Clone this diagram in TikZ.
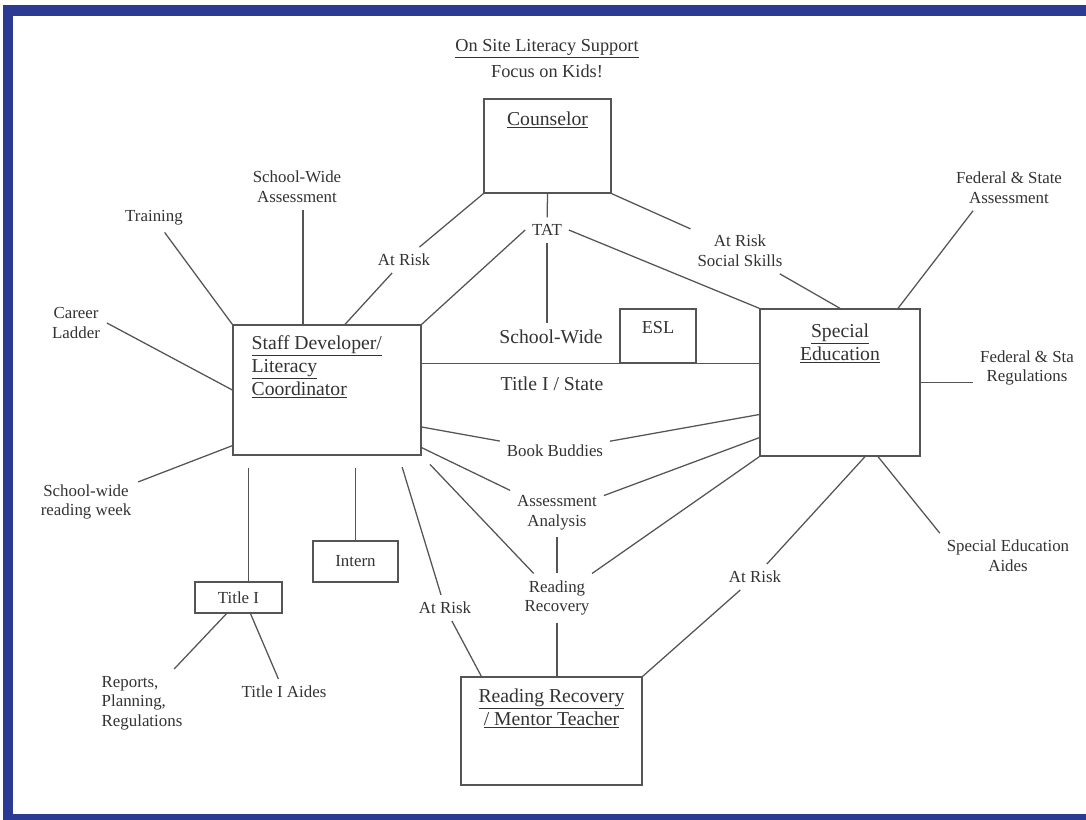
\documentclass[tikz,border=0pt]{standalone}
\usepackage{fontspec}
\setmainfont{Liberation Serif}
\usepackage{tikz}
\usetikzlibrary{positioning,calc}
\definecolor{lsframe}{HTML}{2B3A92}
\definecolor{lsink}{HTML}{333333}
\definecolor{lsline}{HTML}{555555}
\tikzset{
  unit/.style={draw=lsline,line width=0.9pt,fill=white,inner sep=0pt},
  smallunit/.style={unit,font={\fontsize{12}{14}\selectfont},text=lsink},
  hd/.style={font={\fontsize{14}{16.3}\selectfont},text=lsink,align=center,inner sep=5pt},
  lbl/.style={font={\fontsize{12}{14}\selectfont},text=lsink,align=center,inner sep=1pt,outer sep=4pt},
  biglbl/.style={lbl,font={\fontsize{14}{16}\selectfont}},
  link/.style={draw=lsline,line width=0.9pt},
}

\begin{document}
\begin{tikzpicture}[x=0.025cm,y=-0.025cm]
  \useasboundingbox (0,0) rectangle (1086,820);
  \fill[white] (0,0) rectangle (1086,820);
  % frame
  \fill[lsframe] (3,5) rectangle (1086,16);
  \fill[lsframe] (3,5) rectangle (13,820);
  \fill[lsframe] (3,814) rectangle (1086,820);

  % heading
  \node[lbl,font={\fontsize{13}{15}\selectfont}] (head) at (547,49) {\underline{On Site Literacy Support}};
  \node[lbl,font={\fontsize{13}{15}\selectfont}] (kids) at (547,71) {Focus on Kids!};

  % boxes
  \node[unit,minimum width=3.175cm,minimum height=2.35cm] (couns) at (547.5,146) {};
  \node[hd,anchor=north] (counsT) at ([yshift=-0.15cm]couns.north) {\underline{Counselor}};
  \node[unit,minimum width=4.7cm,minimum height=3.25cm] (staff) at (327,390) {};
  \node[hd,anchor=north west,align=left] (staffT) at ([xshift=0.3cm,yshift=-0.1cm]staff.north west)
    {\underline{Staff Developer/}\\\underline{Literacy}\\\underline{Coordinator}};
  \node[unit,minimum width=4cm,minimum height=3.675cm] (sped) at (840,382.5) {};
  \node[hd,anchor=north] (spedT) at ([yshift=-0.2cm]sped.north) {\underline{Special}\\\underline{Education}};
  \node[unit,minimum width=4.525cm,minimum height=2.7cm] (rr) at (551.5,731) {};
  \node[hd,anchor=north] (rrT) at ([yshift=-0.12cm]rr.north) {\underline{Reading Recovery}\\\underline{/ Mentor Teacher}};
  \node[unit,minimum width=1.9cm,minimum height=1.35cm] (esl) at (658,336) {};
  \node[lbl,font={\fontsize{13}{15}\selectfont},anchor=north] (eslT) at ([yshift=-0.15cm]esl.north) {ESL};
  \node[smallunit,minimum width=2.125cm,minimum height=1.025cm] (intern) at (355.5,561.5) {Intern};
  \node[smallunit,minimum width=2.175cm,minimum height=0.775cm] (titlei) at (238.5,597.5) {Title I};

  % labels
  \node[lbl] (train) at (154,218) {Training};
  \node[lbl] (swa) at (297,187) {School-Wide\\Assessment};
  \node[lbl] (career) at (76,323) {Career\\Ladder};
  \node[lbl] (arisk1) at (404,260) {At Risk};
  \node[lbl] (tat) at (547,230) {TAT};
  \node[biglbl] (swide) at (551,337) {School-Wide};
  \node[biglbl] (tstate) at (552,384) {Title I / State};
  \node[lbl] (arss) at (740,251) {At Risk\\Social Skills};
  \node[lbl] (fsa) at (1009,188) {Federal \& State\\Assessment};
  \node[lbl] (fsr) at (1027,368) {Federal \& Sta\\Regulations};
  \node[lbl] (srw) at (86,502) {School-wide\\reading week};
  \node[lbl] (buddies) at (555,451) {Book Buddies};
  \node[lbl] (assess) at (557,513) {Assessment\\Analysis};
  \node[lbl] (rrlbl) at (557,598) {Reading\\Recovery};
  \node[lbl] (arisk2) at (445,608) {At Risk};
  \node[lbl] (arisk3) at (755,577) {At Risk};
  \node[lbl] (aides) at (1008,556) {Special Education\\Aides};
  \node[lbl,align=left] (reports) at (142,703) {Reports,\\Planning,\\Regulations};
  \node[lbl] (t1aides) at (284,692) {Title I Aides};

  % counselor links
  \draw[link] (couns.south) -- (tat);
  \draw[link] (couns.south west) -- (arisk1);
  \draw[link] (couns.south east) -- (arss);
  \draw[link] (tat.west) -- (staff.north east);
  \draw[link] (tat.east) -- (sped.north west);
  \draw[link] (tat) -- (tat |- swide.north);
  \draw[link] (staff.east |- esl.south) -- (sped.west |- esl.south);

  % staff developer links
  \coordinate (swaFoot) at ([xshift=-0.6cm]staff.north);
  \draw[link] (train) -- (staff.north west);
  \draw[link] (swaFoot) -- (swaFoot |- swa.south);
  \draw[link] (arisk1) -- ([xshift=0.45cm]staff.north);
  \draw[link] (career.east) -- (staff.west);
  \draw[link] (srw) -- ([yshift=0.25cm]staff.south west);
  \coordinate (t1Top) at ([xshift=0.4cm]staff.south west);
  \draw[link,shorten <=0.3cm] (t1Top) -- (t1Top |- titlei.north);
  \draw[link,shorten >=0.3cm] (intern.north) -- (intern.north |- staff.south);
  \draw[link,shorten >=0.3cm] (arisk2) -- ([xshift=-0.575cm]staff.south east);
  \draw[link] (arisk2) -- ([xshift=0.525cm]rr.north west);

  % shared programmes
  \draw[link] (buddies) -- ([yshift=-0.925cm]staff.east);
  \draw[link] (buddies) -- ([yshift=-0.8cm]sped.west);
  \draw[link] (assess) -- ([yshift=0.2cm]staff.south east);
  \draw[link] (assess) -- ([yshift=0.475cm]sped.south west);
  \draw[link] (assess) -- (rrlbl);
  \draw[link,shorten >=0.3cm] (rrlbl) -- (staff.south east);
  \draw[link] (rrlbl) -- (sped.south west);
  \draw[link] (rrlbl) -- (rrlbl |- rr.north);

  % special education links
  \draw[link] (arss) -- (sped.north);
  \draw[link] ([xshift=-0.9cm]fsa.south) -- ([xshift=1.45cm]sped.north);
  \draw[link] (sped.east) -- (sped.east -| fsr.west);
  \draw[link] (arisk3) -- ([xshift=0.625cm]sped.south);
  \draw[link] (arisk3) -- (rr.north east);
  \draw[link] (aides.north west) -- ([xshift=0.95cm]sped.south);

  % title I links
  \draw[link] (reports) -- ([xshift=-0.3cm]titlei.south);
  \draw[link] (t1aides) -- ([xshift=0.3cm]titlei.south);
\end{tikzpicture}
\end{document}
